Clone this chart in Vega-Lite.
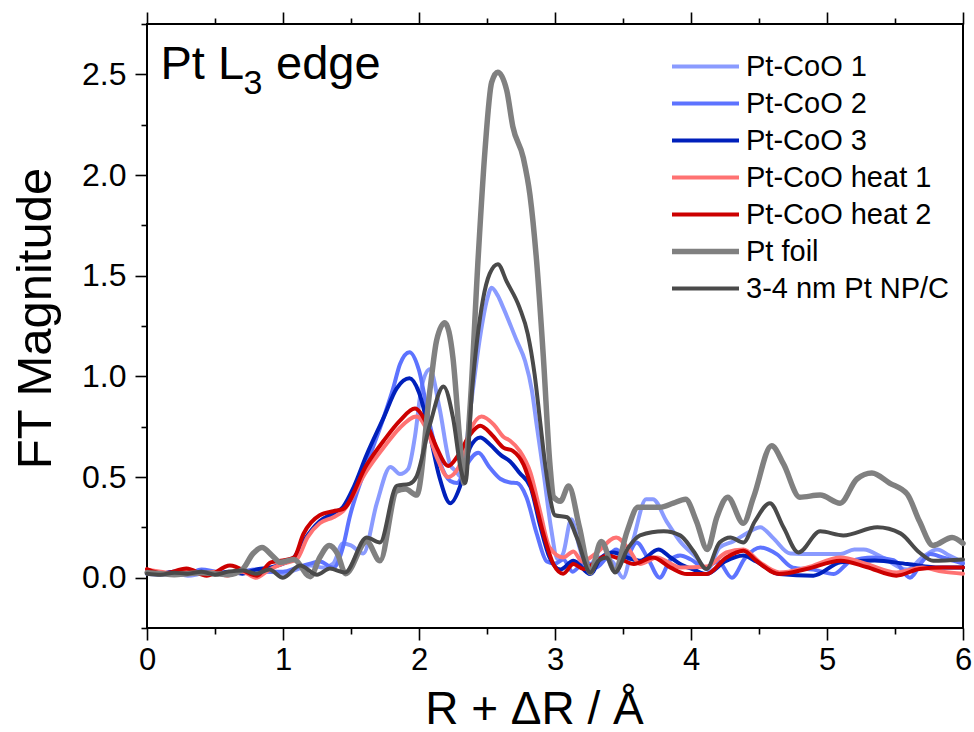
{
  "$schema": "https://vega.github.io/schema/vega-lite/v6.json",
  "width": 816,
  "height": 604,
  "autosize": {"type": "none"},
  "padding": {"left": 147, "top": 24, "right": 11, "bottom": 104},
  "background": "white",
  "config": {
    "view": {"stroke": "black", "strokeWidth": 2},
    "font": "Liberation Sans",
    "axis": {"grid": false, "domain": false, "tickColor": "black", "tickWidth": 1.6, "labelColor": "black", "titleColor": "black", "labelFont": "Liberation Sans", "titleFont": "Liberation Sans", "titleFontWeight": "normal"},
    "legend": {"labelFont": "Liberation Sans", "labelColor": "black"}
  },
  "datasets": {
    "curves": [
      {"series": "Pt-CoO 1", "r": 0.0, "m": 0.02}, {"series": "Pt-CoO 1", "r": 0.1, "m": 0.015}, {"series": "Pt-CoO 1", "r": 0.2, "m": 0.02}, {"series": "Pt-CoO 1", "r": 0.3, "m": 0.01}, {"series": "Pt-CoO 1", "r": 0.4, "m": 0.02}, {"series": "Pt-CoO 1", "r": 0.5, "m": 0.03}, {"series": "Pt-CoO 1", "r": 0.6, "m": 0.02}, {"series": "Pt-CoO 1", "r": 0.7, "m": 0.03}, {"series": "Pt-CoO 1", "r": 0.8, "m": 0.02}, {"series": "Pt-CoO 1", "r": 0.9, "m": 0.03}, {"series": "Pt-CoO 1", "r": 1.0, "m": 0.02}, {"series": "Pt-CoO 1", "r": 1.1, "m": 0.04}, {"series": "Pt-CoO 1", "r": 1.2, "m": 0.06}, {"series": "Pt-CoO 1", "r": 1.3, "m": 0.05}, {"series": "Pt-CoO 1", "r": 1.37, "m": 0.07}, {"series": "Pt-CoO 1", "r": 1.44, "m": 0.17}, {"series": "Pt-CoO 1", "r": 1.5, "m": 0.16}, {"series": "Pt-CoO 1", "r": 1.59, "m": 0.12}, {"series": "Pt-CoO 1", "r": 1.69, "m": 0.37}, {"series": "Pt-CoO 1", "r": 1.79, "m": 0.55}, {"series": "Pt-CoO 1", "r": 1.86, "m": 0.515}, {"series": "Pt-CoO 1", "r": 1.92, "m": 0.54}, {"series": "Pt-CoO 1", "r": 1.97, "m": 0.7}, {"series": "Pt-CoO 1", "r": 2.02, "m": 0.95}, {"series": "Pt-CoO 1", "r": 2.08, "m": 1.035}, {"series": "Pt-CoO 1", "r": 2.15, "m": 0.845}, {"series": "Pt-CoO 1", "r": 2.23, "m": 0.56}, {"series": "Pt-CoO 1", "r": 2.27, "m": 0.53}, {"series": "Pt-CoO 1", "r": 2.31, "m": 0.5}, {"series": "Pt-CoO 1", "r": 2.38, "m": 0.85}, {"series": "Pt-CoO 1", "r": 2.45, "m": 1.2}, {"series": "Pt-CoO 1", "r": 2.5, "m": 1.38}, {"series": "Pt-CoO 1", "r": 2.534, "m": 1.44}, {"series": "Pt-CoO 1", "r": 2.58, "m": 1.4}, {"series": "Pt-CoO 1", "r": 2.62, "m": 1.34}, {"series": "Pt-CoO 1", "r": 2.72, "m": 1.175}, {"series": "Pt-CoO 1", "r": 2.78, "m": 1.076}, {"series": "Pt-CoO 1", "r": 2.83, "m": 0.93}, {"series": "Pt-CoO 1", "r": 2.865, "m": 0.76}, {"series": "Pt-CoO 1", "r": 2.92, "m": 0.5}, {"series": "Pt-CoO 1", "r": 2.97, "m": 0.25}, {"series": "Pt-CoO 1", "r": 3.02, "m": 0.09}, {"series": "Pt-CoO 1", "r": 3.06, "m": 0.12}, {"series": "Pt-CoO 1", "r": 3.12, "m": 0.29}, {"series": "Pt-CoO 1", "r": 3.18, "m": 0.15}, {"series": "Pt-CoO 1", "r": 3.23, "m": 0.05}, {"series": "Pt-CoO 1", "r": 3.32, "m": 0.1}, {"series": "Pt-CoO 1", "r": 3.42, "m": 0.08}, {"series": "Pt-CoO 1", "r": 3.5, "m": 0.0}, {"series": "Pt-CoO 1", "r": 3.58, "m": 0.2}, {"series": "Pt-CoO 1", "r": 3.67, "m": 0.39}, {"series": "Pt-CoO 1", "r": 3.72, "m": 0.39}, {"series": "Pt-CoO 1", "r": 3.82, "m": 0.28}, {"series": "Pt-CoO 1", "r": 3.92, "m": 0.18}, {"series": "Pt-CoO 1", "r": 4.04, "m": 0.1}, {"series": "Pt-CoO 1", "r": 4.12, "m": 0.04}, {"series": "Pt-CoO 1", "r": 4.21, "m": 0.15}, {"series": "Pt-CoO 1", "r": 4.31, "m": 0.18}, {"series": "Pt-CoO 1", "r": 4.41, "m": 0.22}, {"series": "Pt-CoO 1", "r": 4.51, "m": 0.25}, {"series": "Pt-CoO 1", "r": 4.6, "m": 0.2}, {"series": "Pt-CoO 1", "r": 4.73, "m": 0.12}, {"series": "Pt-CoO 1", "r": 4.9, "m": 0.117}, {"series": "Pt-CoO 1", "r": 5.1, "m": 0.117}, {"series": "Pt-CoO 1", "r": 5.2, "m": 0.14}, {"series": "Pt-CoO 1", "r": 5.27, "m": 0.14}, {"series": "Pt-CoO 1", "r": 5.41, "m": 0.1}, {"series": "Pt-CoO 1", "r": 5.59, "m": 0.04}, {"series": "Pt-CoO 1", "r": 5.7, "m": 0.1}, {"series": "Pt-CoO 1", "r": 5.81, "m": 0.14}, {"series": "Pt-CoO 1", "r": 5.9, "m": 0.11}, {"series": "Pt-CoO 1", "r": 6.0, "m": 0.076},

      {"series": "Pt-CoO 2", "r": 0.0, "m": 0.03}, {"series": "Pt-CoO 2", "r": 0.1, "m": 0.02}, {"series": "Pt-CoO 2", "r": 0.2, "m": 0.03}, {"series": "Pt-CoO 2", "r": 0.3, "m": 0.02}, {"series": "Pt-CoO 2", "r": 0.4, "m": 0.04}, {"series": "Pt-CoO 2", "r": 0.5, "m": 0.03}, {"series": "Pt-CoO 2", "r": 0.6, "m": 0.02}, {"series": "Pt-CoO 2", "r": 0.7, "m": 0.03}, {"series": "Pt-CoO 2", "r": 0.8, "m": 0.04}, {"series": "Pt-CoO 2", "r": 0.9, "m": 0.03}, {"series": "Pt-CoO 2", "r": 1.0, "m": 0.03}, {"series": "Pt-CoO 2", "r": 1.1, "m": 0.05}, {"series": "Pt-CoO 2", "r": 1.2, "m": 0.07}, {"series": "Pt-CoO 2", "r": 1.27, "m": 0.08}, {"series": "Pt-CoO 2", "r": 1.37, "m": 0.05}, {"series": "Pt-CoO 2", "r": 1.44, "m": 0.15}, {"series": "Pt-CoO 2", "r": 1.49, "m": 0.3}, {"series": "Pt-CoO 2", "r": 1.615, "m": 0.56}, {"series": "Pt-CoO 2", "r": 1.74, "m": 0.795}, {"series": "Pt-CoO 2", "r": 1.81, "m": 0.94}, {"series": "Pt-CoO 2", "r": 1.86, "m": 1.06}, {"series": "Pt-CoO 2", "r": 1.93, "m": 1.12}, {"series": "Pt-CoO 2", "r": 2.0, "m": 1.03}, {"series": "Pt-CoO 2", "r": 2.08, "m": 0.76}, {"series": "Pt-CoO 2", "r": 2.15, "m": 0.58}, {"series": "Pt-CoO 2", "r": 2.23, "m": 0.48}, {"series": "Pt-CoO 2", "r": 2.28, "m": 0.47}, {"series": "Pt-CoO 2", "r": 2.35, "m": 0.56}, {"series": "Pt-CoO 2", "r": 2.436, "m": 0.62}, {"series": "Pt-CoO 2", "r": 2.52, "m": 0.547}, {"series": "Pt-CoO 2", "r": 2.6, "m": 0.49}, {"series": "Pt-CoO 2", "r": 2.67, "m": 0.473}, {"series": "Pt-CoO 2", "r": 2.72, "m": 0.47}, {"series": "Pt-CoO 2", "r": 2.79, "m": 0.4}, {"series": "Pt-CoO 2", "r": 2.865, "m": 0.22}, {"series": "Pt-CoO 2", "r": 2.94, "m": 0.08}, {"series": "Pt-CoO 2", "r": 3.0, "m": 0.07}, {"series": "Pt-CoO 2", "r": 3.06, "m": 0.09}, {"series": "Pt-CoO 2", "r": 3.13, "m": 0.03}, {"series": "Pt-CoO 2", "r": 3.22, "m": 0.08}, {"series": "Pt-CoO 2", "r": 3.3, "m": 0.05}, {"series": "Pt-CoO 2", "r": 3.38, "m": 0.1}, {"series": "Pt-CoO 2", "r": 3.45, "m": 0.14}, {"series": "Pt-CoO 2", "r": 3.52, "m": 0.1}, {"series": "Pt-CoO 2", "r": 3.6, "m": 0.175}, {"series": "Pt-CoO 2", "r": 3.68, "m": 0.1}, {"series": "Pt-CoO 2", "r": 3.77, "m": 0.0}, {"series": "Pt-CoO 2", "r": 3.85, "m": 0.09}, {"series": "Pt-CoO 2", "r": 3.92, "m": 0.11}, {"series": "Pt-CoO 2", "r": 4.0, "m": 0.09}, {"series": "Pt-CoO 2", "r": 4.1, "m": 0.05}, {"series": "Pt-CoO 2", "r": 4.2, "m": 0.08}, {"series": "Pt-CoO 2", "r": 4.3, "m": 0.0}, {"series": "Pt-CoO 2", "r": 4.4, "m": 0.1}, {"series": "Pt-CoO 2", "r": 4.51, "m": 0.15}, {"series": "Pt-CoO 2", "r": 4.63, "m": 0.117}, {"series": "Pt-CoO 2", "r": 4.75, "m": 0.05}, {"series": "Pt-CoO 2", "r": 4.9, "m": 0.04}, {"series": "Pt-CoO 2", "r": 5.05, "m": 0.018}, {"series": "Pt-CoO 2", "r": 5.17, "m": 0.08}, {"series": "Pt-CoO 2", "r": 5.34, "m": 0.1}, {"series": "Pt-CoO 2", "r": 5.49, "m": 0.087}, {"series": "Pt-CoO 2", "r": 5.61, "m": 0.0}, {"series": "Pt-CoO 2", "r": 5.7, "m": 0.08}, {"series": "Pt-CoO 2", "r": 5.76, "m": 0.117}, {"series": "Pt-CoO 2", "r": 5.85, "m": 0.1}, {"series": "Pt-CoO 2", "r": 6.0, "m": 0.07},

      {"series": "Pt-CoO 3", "r": 0.0, "m": 0.02}, {"series": "Pt-CoO 3", "r": 0.1, "m": 0.02}, {"series": "Pt-CoO 3", "r": 0.2, "m": 0.03}, {"series": "Pt-CoO 3", "r": 0.3, "m": 0.02}, {"series": "Pt-CoO 3", "r": 0.4, "m": 0.03}, {"series": "Pt-CoO 3", "r": 0.5, "m": 0.02}, {"series": "Pt-CoO 3", "r": 0.6, "m": 0.03}, {"series": "Pt-CoO 3", "r": 0.7, "m": 0.02}, {"series": "Pt-CoO 3", "r": 0.8, "m": 0.04}, {"series": "Pt-CoO 3", "r": 0.9, "m": 0.05}, {"series": "Pt-CoO 3", "r": 1.0, "m": 0.07}, {"series": "Pt-CoO 3", "r": 1.08, "m": 0.1}, {"series": "Pt-CoO 3", "r": 1.15, "m": 0.18}, {"series": "Pt-CoO 3", "r": 1.27, "m": 0.28}, {"series": "Pt-CoO 3", "r": 1.37, "m": 0.32}, {"series": "Pt-CoO 3", "r": 1.44, "m": 0.35}, {"series": "Pt-CoO 3", "r": 1.52, "m": 0.45}, {"series": "Pt-CoO 3", "r": 1.615, "m": 0.61}, {"series": "Pt-CoO 3", "r": 1.74, "m": 0.795}, {"series": "Pt-CoO 3", "r": 1.836, "m": 0.94}, {"series": "Pt-CoO 3", "r": 1.93, "m": 0.99}, {"series": "Pt-CoO 3", "r": 2.0, "m": 0.92}, {"series": "Pt-CoO 3", "r": 2.08, "m": 0.71}, {"series": "Pt-CoO 3", "r": 2.15, "m": 0.5}, {"series": "Pt-CoO 3", "r": 2.23, "m": 0.37}, {"series": "Pt-CoO 3", "r": 2.3, "m": 0.45}, {"series": "Pt-CoO 3", "r": 2.375, "m": 0.646}, {"series": "Pt-CoO 3", "r": 2.45, "m": 0.696}, {"series": "Pt-CoO 3", "r": 2.52, "m": 0.663}, {"series": "Pt-CoO 3", "r": 2.6, "m": 0.61}, {"series": "Pt-CoO 3", "r": 2.67, "m": 0.577}, {"series": "Pt-CoO 3", "r": 2.74, "m": 0.52}, {"series": "Pt-CoO 3", "r": 2.82, "m": 0.45}, {"series": "Pt-CoO 3", "r": 2.89, "m": 0.26}, {"series": "Pt-CoO 3", "r": 2.96, "m": 0.1}, {"series": "Pt-CoO 3", "r": 3.04, "m": 0.04}, {"series": "Pt-CoO 3", "r": 3.135, "m": 0.084}, {"series": "Pt-CoO 3", "r": 3.26, "m": 0.018}, {"series": "Pt-CoO 3", "r": 3.34, "m": 0.1}, {"series": "Pt-CoO 3", "r": 3.43, "m": 0.125}, {"series": "Pt-CoO 3", "r": 3.53, "m": 0.1}, {"series": "Pt-CoO 3", "r": 3.625, "m": 0.084}, {"series": "Pt-CoO 3", "r": 3.76, "m": 0.14}, {"series": "Pt-CoO 3", "r": 3.85, "m": 0.1}, {"series": "Pt-CoO 3", "r": 3.92, "m": 0.068}, {"series": "Pt-CoO 3", "r": 4.02, "m": 0.04}, {"series": "Pt-CoO 3", "r": 4.115, "m": 0.018}, {"series": "Pt-CoO 3", "r": 4.25, "m": 0.08}, {"series": "Pt-CoO 3", "r": 4.385, "m": 0.11}, {"series": "Pt-CoO 3", "r": 4.48, "m": 0.08}, {"series": "Pt-CoO 3", "r": 4.65, "m": 0.018}, {"series": "Pt-CoO 3", "r": 4.9, "m": 0.01}, {"series": "Pt-CoO 3", "r": 5.1, "m": 0.076}, {"series": "Pt-CoO 3", "r": 5.35, "m": 0.085}, {"series": "Pt-CoO 3", "r": 5.59, "m": 0.068}, {"series": "Pt-CoO 3", "r": 5.83, "m": 0.05}, {"series": "Pt-CoO 3", "r": 6.0, "m": 0.05},

      {"series": "Pt-CoO heat 1", "r": 0.0, "m": 0.04}, {"series": "Pt-CoO heat 1", "r": 0.1, "m": 0.03}, {"series": "Pt-CoO heat 1", "r": 0.2, "m": 0.02}, {"series": "Pt-CoO heat 1", "r": 0.3, "m": 0.04}, {"series": "Pt-CoO heat 1", "r": 0.4, "m": 0.02}, {"series": "Pt-CoO heat 1", "r": 0.5, "m": 0.03}, {"series": "Pt-CoO heat 1", "r": 0.59, "m": 0.01}, {"series": "Pt-CoO heat 1", "r": 0.7, "m": 0.03}, {"series": "Pt-CoO heat 1", "r": 0.8, "m": 0.0}, {"series": "Pt-CoO heat 1", "r": 0.9, "m": 0.04}, {"series": "Pt-CoO heat 1", "r": 1.0, "m": 0.07}, {"series": "Pt-CoO heat 1", "r": 1.1, "m": 0.09}, {"series": "Pt-CoO heat 1", "r": 1.18, "m": 0.2}, {"series": "Pt-CoO heat 1", "r": 1.27, "m": 0.27}, {"series": "Pt-CoO heat 1", "r": 1.37, "m": 0.3}, {"series": "Pt-CoO heat 1", "r": 1.44, "m": 0.33}, {"series": "Pt-CoO heat 1", "r": 1.615, "m": 0.53}, {"series": "Pt-CoO heat 1", "r": 1.74, "m": 0.646}, {"series": "Pt-CoO heat 1", "r": 1.86, "m": 0.745}, {"series": "Pt-CoO heat 1", "r": 1.983, "m": 0.8}, {"series": "Pt-CoO heat 1", "r": 2.06, "m": 0.73}, {"series": "Pt-CoO heat 1", "r": 2.13, "m": 0.6}, {"series": "Pt-CoO heat 1", "r": 2.215, "m": 0.5}, {"series": "Pt-CoO heat 1", "r": 2.29, "m": 0.547}, {"series": "Pt-CoO heat 1", "r": 2.375, "m": 0.73}, {"series": "Pt-CoO heat 1", "r": 2.46, "m": 0.8}, {"series": "Pt-CoO heat 1", "r": 2.55, "m": 0.76}, {"series": "Pt-CoO heat 1", "r": 2.62, "m": 0.7}, {"series": "Pt-CoO heat 1", "r": 2.67, "m": 0.68}, {"series": "Pt-CoO heat 1", "r": 2.74, "m": 0.63}, {"series": "Pt-CoO heat 1", "r": 2.82, "m": 0.52}, {"series": "Pt-CoO heat 1", "r": 2.89, "m": 0.33}, {"series": "Pt-CoO heat 1", "r": 2.96, "m": 0.15}, {"series": "Pt-CoO heat 1", "r": 3.06, "m": 0.1}, {"series": "Pt-CoO heat 1", "r": 3.135, "m": 0.13}, {"series": "Pt-CoO heat 1", "r": 3.2, "m": 0.08}, {"series": "Pt-CoO heat 1", "r": 3.3, "m": 0.12}, {"series": "Pt-CoO heat 1", "r": 3.45, "m": 0.2}, {"series": "Pt-CoO heat 1", "r": 3.55, "m": 0.134}, {"series": "Pt-CoO heat 1", "r": 3.625, "m": 0.068}, {"series": "Pt-CoO heat 1", "r": 3.75, "m": 0.1}, {"series": "Pt-CoO heat 1", "r": 3.85, "m": 0.07}, {"series": "Pt-CoO heat 1", "r": 3.92, "m": 0.05}, {"series": "Pt-CoO heat 1", "r": 4.115, "m": 0.055}, {"series": "Pt-CoO heat 1", "r": 4.26, "m": 0.125}, {"series": "Pt-CoO heat 1", "r": 4.385, "m": 0.14}, {"series": "Pt-CoO heat 1", "r": 4.5, "m": 0.08}, {"series": "Pt-CoO heat 1", "r": 4.65, "m": 0.026}, {"series": "Pt-CoO heat 1", "r": 4.85, "m": 0.05}, {"series": "Pt-CoO heat 1", "r": 5.1, "m": 0.1}, {"series": "Pt-CoO heat 1", "r": 5.29, "m": 0.068}, {"series": "Pt-CoO heat 1", "r": 5.51, "m": 0.026}, {"series": "Pt-CoO heat 1", "r": 5.7, "m": 0.05}, {"series": "Pt-CoO heat 1", "r": 5.85, "m": 0.03}, {"series": "Pt-CoO heat 1", "r": 6.0, "m": 0.02},

      {"series": "Pt-CoO heat 2", "r": 0.0, "m": 0.043}, {"series": "Pt-CoO heat 2", "r": 0.12, "m": 0.02}, {"series": "Pt-CoO heat 2", "r": 0.29, "m": 0.045}, {"series": "Pt-CoO heat 2", "r": 0.44, "m": 0.01}, {"series": "Pt-CoO heat 2", "r": 0.61, "m": 0.06}, {"series": "Pt-CoO heat 2", "r": 0.81, "m": 0.01}, {"series": "Pt-CoO heat 2", "r": 0.91, "m": 0.076}, {"series": "Pt-CoO heat 2", "r": 1.0, "m": 0.085}, {"series": "Pt-CoO heat 2", "r": 1.08, "m": 0.1}, {"series": "Pt-CoO heat 2", "r": 1.15, "m": 0.217}, {"series": "Pt-CoO heat 2", "r": 1.27, "m": 0.31}, {"series": "Pt-CoO heat 2", "r": 1.37, "m": 0.33}, {"series": "Pt-CoO heat 2", "r": 1.44, "m": 0.34}, {"series": "Pt-CoO heat 2", "r": 1.615, "m": 0.56}, {"series": "Pt-CoO heat 2", "r": 1.74, "m": 0.68}, {"series": "Pt-CoO heat 2", "r": 1.86, "m": 0.78}, {"series": "Pt-CoO heat 2", "r": 1.97, "m": 0.84}, {"series": "Pt-CoO heat 2", "r": 2.06, "m": 0.76}, {"series": "Pt-CoO heat 2", "r": 2.13, "m": 0.646}, {"series": "Pt-CoO heat 2", "r": 2.215, "m": 0.555}, {"series": "Pt-CoO heat 2", "r": 2.29, "m": 0.61}, {"series": "Pt-CoO heat 2", "r": 2.375, "m": 0.71}, {"series": "Pt-CoO heat 2", "r": 2.45, "m": 0.754}, {"series": "Pt-CoO heat 2", "r": 2.535, "m": 0.71}, {"series": "Pt-CoO heat 2", "r": 2.62, "m": 0.646}, {"series": "Pt-CoO heat 2", "r": 2.69, "m": 0.63}, {"series": "Pt-CoO heat 2", "r": 2.77, "m": 0.56}, {"series": "Pt-CoO heat 2", "r": 2.84, "m": 0.417}, {"series": "Pt-CoO heat 2", "r": 2.914, "m": 0.22}, {"series": "Pt-CoO heat 2", "r": 2.99, "m": 0.065}, {"series": "Pt-CoO heat 2", "r": 3.06, "m": 0.02}, {"series": "Pt-CoO heat 2", "r": 3.135, "m": 0.068}, {"series": "Pt-CoO heat 2", "r": 3.21, "m": 0.043}, {"series": "Pt-CoO heat 2", "r": 3.31, "m": 0.084}, {"series": "Pt-CoO heat 2", "r": 3.38, "m": 0.11}, {"series": "Pt-CoO heat 2", "r": 3.48, "m": 0.093}, {"series": "Pt-CoO heat 2", "r": 3.58, "m": 0.068}, {"series": "Pt-CoO heat 2", "r": 3.72, "m": 0.1}, {"series": "Pt-CoO heat 2", "r": 3.85, "m": 0.05}, {"series": "Pt-CoO heat 2", "r": 3.97, "m": 0.018}, {"series": "Pt-CoO heat 2", "r": 4.115, "m": 0.018}, {"series": "Pt-CoO heat 2", "r": 4.26, "m": 0.1}, {"series": "Pt-CoO heat 2", "r": 4.385, "m": 0.134}, {"series": "Pt-CoO heat 2", "r": 4.48, "m": 0.084}, {"series": "Pt-CoO heat 2", "r": 4.65, "m": 0.018}, {"series": "Pt-CoO heat 2", "r": 4.85, "m": 0.043}, {"series": "Pt-CoO heat 2", "r": 5.1, "m": 0.084}, {"series": "Pt-CoO heat 2", "r": 5.29, "m": 0.053}, {"series": "Pt-CoO heat 2", "r": 5.51, "m": 0.01}, {"series": "Pt-CoO heat 2", "r": 5.68, "m": 0.043}, {"series": "Pt-CoO heat 2", "r": 5.85, "m": 0.05}, {"series": "Pt-CoO heat 2", "r": 6.0, "m": 0.05},

      {"series": "Pt foil", "r": 0.0, "m": 0.025}, {"series": "Pt foil", "r": 0.1, "m": 0.02}, {"series": "Pt foil", "r": 0.2, "m": 0.015}, {"series": "Pt foil", "r": 0.3, "m": 0.02}, {"series": "Pt foil", "r": 0.4, "m": 0.025}, {"series": "Pt foil", "r": 0.5, "m": 0.02}, {"series": "Pt foil", "r": 0.6, "m": 0.015}, {"series": "Pt foil", "r": 0.7, "m": 0.04}, {"series": "Pt foil", "r": 0.78, "m": 0.12}, {"series": "Pt foil", "r": 0.846, "m": 0.15}, {"series": "Pt foil", "r": 0.92, "m": 0.11}, {"series": "Pt foil", "r": 0.98, "m": 0.076}, {"series": "Pt foil", "r": 1.08, "m": 0.09}, {"series": "Pt foil", "r": 1.2, "m": 0.005}, {"series": "Pt foil", "r": 1.27, "m": 0.1}, {"series": "Pt foil", "r": 1.34, "m": 0.16}, {"series": "Pt foil", "r": 1.4, "m": 0.12}, {"series": "Pt foil", "r": 1.46, "m": 0.02}, {"series": "Pt foil", "r": 1.615, "m": 0.18}, {"series": "Pt foil", "r": 1.713, "m": 0.084}, {"series": "Pt foil", "r": 1.836, "m": 0.43}, {"series": "Pt foil", "r": 1.9, "m": 0.44}, {"series": "Pt foil", "r": 1.983, "m": 0.41}, {"series": "Pt foil", "r": 2.08, "m": 0.93}, {"series": "Pt foil", "r": 2.13, "m": 1.18}, {"series": "Pt foil", "r": 2.19, "m": 1.266}, {"series": "Pt foil", "r": 2.25, "m": 1.09}, {"series": "Pt foil", "r": 2.3, "m": 0.68}, {"series": "Pt foil", "r": 2.33, "m": 0.47}, {"series": "Pt foil", "r": 2.375, "m": 0.84}, {"series": "Pt foil", "r": 2.436, "m": 1.6}, {"series": "Pt foil", "r": 2.485, "m": 2.12}, {"series": "Pt foil", "r": 2.534, "m": 2.46}, {"series": "Pt foil", "r": 2.579, "m": 2.51}, {"series": "Pt foil", "r": 2.645, "m": 2.42}, {"series": "Pt foil", "r": 2.69, "m": 2.24}, {"series": "Pt foil", "r": 2.767, "m": 2.085}, {"series": "Pt foil", "r": 2.816, "m": 1.9}, {"series": "Pt foil", "r": 2.865, "m": 1.57}, {"series": "Pt foil", "r": 2.914, "m": 1.1}, {"series": "Pt foil", "r": 2.963, "m": 0.56}, {"series": "Pt foil", "r": 2.99, "m": 0.4}, {"series": "Pt foil", "r": 3.04, "m": 0.38}, {"series": "Pt foil", "r": 3.1, "m": 0.455}, {"series": "Pt foil", "r": 3.18, "m": 0.25}, {"series": "Pt foil", "r": 3.26, "m": 0.025}, {"series": "Pt foil", "r": 3.34, "m": 0.18}, {"series": "Pt foil", "r": 3.44, "m": 0.035}, {"series": "Pt foil", "r": 3.53, "m": 0.23}, {"series": "Pt foil", "r": 3.61, "m": 0.35}, {"series": "Pt foil", "r": 3.77, "m": 0.35}, {"series": "Pt foil", "r": 3.87, "m": 0.37}, {"series": "Pt foil", "r": 3.96, "m": 0.39}, {"series": "Pt foil", "r": 4.04, "m": 0.28}, {"series": "Pt foil", "r": 4.12, "m": 0.14}, {"series": "Pt foil", "r": 4.19, "m": 0.3}, {"series": "Pt foil", "r": 4.27, "m": 0.4}, {"series": "Pt foil", "r": 4.385, "m": 0.27}, {"series": "Pt foil", "r": 4.46, "m": 0.4}, {"series": "Pt foil", "r": 4.593, "m": 0.655}, {"series": "Pt foil", "r": 4.68, "m": 0.565}, {"series": "Pt foil", "r": 4.8, "m": 0.4}, {"series": "Pt foil", "r": 4.95, "m": 0.41}, {"series": "Pt foil", "r": 5.096, "m": 0.37}, {"series": "Pt foil", "r": 5.22, "m": 0.49}, {"series": "Pt foil", "r": 5.33, "m": 0.52}, {"series": "Pt foil", "r": 5.46, "m": 0.47}, {"series": "Pt foil", "r": 5.59, "m": 0.415}, {"series": "Pt foil", "r": 5.68, "m": 0.28}, {"series": "Pt foil", "r": 5.78, "m": 0.16}, {"series": "Pt foil", "r": 5.92, "m": 0.2}, {"series": "Pt foil", "r": 6.0, "m": 0.17},

      {"series": "3-4 nm Pt NP/C", "r": 0.0, "m": 0.02}, {"series": "3-4 nm Pt NP/C", "r": 0.1, "m": 0.015}, {"series": "3-4 nm Pt NP/C", "r": 0.2, "m": 0.025}, {"series": "3-4 nm Pt NP/C", "r": 0.3, "m": 0.02}, {"series": "3-4 nm Pt NP/C", "r": 0.4, "m": 0.03}, {"series": "3-4 nm Pt NP/C", "r": 0.5, "m": 0.015}, {"series": "3-4 nm Pt NP/C", "r": 0.6, "m": 0.03}, {"series": "3-4 nm Pt NP/C", "r": 0.71, "m": 0.035}, {"series": "3-4 nm Pt NP/C", "r": 0.8, "m": 0.02}, {"series": "3-4 nm Pt NP/C", "r": 0.9, "m": 0.04}, {"series": "3-4 nm Pt NP/C", "r": 1.0, "m": 0.0}, {"series": "3-4 nm Pt NP/C", "r": 1.125, "m": 0.06}, {"series": "3-4 nm Pt NP/C", "r": 1.25, "m": 0.015}, {"series": "3-4 nm Pt NP/C", "r": 1.345, "m": 0.045}, {"series": "3-4 nm Pt NP/C", "r": 1.456, "m": 0.026}, {"series": "3-4 nm Pt NP/C", "r": 1.615, "m": 0.2}, {"series": "3-4 nm Pt NP/C", "r": 1.713, "m": 0.175}, {"series": "3-4 nm Pt NP/C", "r": 1.836, "m": 0.456}, {"series": "3-4 nm Pt NP/C", "r": 1.93, "m": 0.466}, {"series": "3-4 nm Pt NP/C", "r": 1.98, "m": 0.5}, {"series": "3-4 nm Pt NP/C", "r": 2.08, "m": 0.76}, {"series": "3-4 nm Pt NP/C", "r": 2.18, "m": 0.95}, {"series": "3-4 nm Pt NP/C", "r": 2.25, "m": 0.795}, {"series": "3-4 nm Pt NP/C", "r": 2.31, "m": 0.53}, {"series": "3-4 nm Pt NP/C", "r": 2.34, "m": 0.47}, {"series": "3-4 nm Pt NP/C", "r": 2.39, "m": 0.93}, {"series": "3-4 nm Pt NP/C", "r": 2.47, "m": 1.38}, {"series": "3-4 nm Pt NP/C", "r": 2.52, "m": 1.51}, {"series": "3-4 nm Pt NP/C", "r": 2.58, "m": 1.557}, {"series": "3-4 nm Pt NP/C", "r": 2.645, "m": 1.47}, {"series": "3-4 nm Pt NP/C", "r": 2.74, "m": 1.34}, {"series": "3-4 nm Pt NP/C", "r": 2.8, "m": 1.21}, {"series": "3-4 nm Pt NP/C", "r": 2.85, "m": 1.01}, {"series": "3-4 nm Pt NP/C", "r": 2.89, "m": 0.78}, {"series": "3-4 nm Pt NP/C", "r": 2.93, "m": 0.55}, {"series": "3-4 nm Pt NP/C", "r": 2.963, "m": 0.4}, {"series": "3-4 nm Pt NP/C", "r": 3.0, "m": 0.31}, {"series": "3-4 nm Pt NP/C", "r": 3.09, "m": 0.3}, {"series": "3-4 nm Pt NP/C", "r": 3.16, "m": 0.2}, {"series": "3-4 nm Pt NP/C", "r": 3.26, "m": 0.026}, {"series": "3-4 nm Pt NP/C", "r": 3.32, "m": 0.084}, {"series": "3-4 nm Pt NP/C", "r": 3.38, "m": 0.1}, {"series": "3-4 nm Pt NP/C", "r": 3.44, "m": 0.026}, {"series": "3-4 nm Pt NP/C", "r": 3.54, "m": 0.15}, {"series": "3-4 nm Pt NP/C", "r": 3.625, "m": 0.21}, {"series": "3-4 nm Pt NP/C", "r": 3.8, "m": 0.23}, {"series": "3-4 nm Pt NP/C", "r": 3.92, "m": 0.21}, {"series": "3-4 nm Pt NP/C", "r": 4.02, "m": 0.13}, {"series": "3-4 nm Pt NP/C", "r": 4.115, "m": 0.043}, {"series": "3-4 nm Pt NP/C", "r": 4.21, "m": 0.175}, {"series": "3-4 nm Pt NP/C", "r": 4.29, "m": 0.2}, {"series": "3-4 nm Pt NP/C", "r": 4.385, "m": 0.175}, {"series": "3-4 nm Pt NP/C", "r": 4.47, "m": 0.28}, {"series": "3-4 nm Pt NP/C", "r": 4.58, "m": 0.37}, {"series": "3-4 nm Pt NP/C", "r": 4.68, "m": 0.25}, {"series": "3-4 nm Pt NP/C", "r": 4.79, "m": 0.125}, {"series": "3-4 nm Pt NP/C", "r": 4.95, "m": 0.23}, {"series": "3-4 nm Pt NP/C", "r": 5.12, "m": 0.21}, {"series": "3-4 nm Pt NP/C", "r": 5.37, "m": 0.25}, {"series": "3-4 nm Pt NP/C", "r": 5.54, "m": 0.22}, {"series": "3-4 nm Pt NP/C", "r": 5.68, "m": 0.125}, {"series": "3-4 nm Pt NP/C", "r": 5.78, "m": 0.084}, {"series": "3-4 nm Pt NP/C", "r": 6.0, "m": 0.09}
    ]
  },
  "resolve": {"axis": {"x": "independent"}},
  "layer": [
    {
      "data": {"name": "curves"},
      "mark": {"type": "line", "interpolate": "monotone", "strokeCap": "round", "strokeJoin": "round"},
      "encoding": {
        "x": {"field": "r", "type": "quantitative",
          "scale": {"domain": [0, 6], "nice": false, "zero": false},
          "axis": {"orient": "bottom", "values": [0, 0.5, 1, 1.5, 2, 2.5, 3, 3.5, 4, 4.5, 5, 5.5, 6],
            "labelExpr": "abs(datum.value - round(datum.value)) < 0.001 ? format(datum.value, 'd') : ''",
            "tickSize": {"condition": {"test": "abs(datum.value - round(datum.value)) < 0.001", "value": 12}, "value": 6},
            "labelFontSize": 31, "labelPadding": 5, "labelFlush": false,
            "title": "R + ΔR / Å", "titleFontSize": 46, "titleX": 387, "titleY": 95, "titleBaseline": "alphabetic", "titleAlign": "center", "titleAnchor": null}},
        "y": {"field": "m", "type": "quantitative",
          "scale": {"domain": [-0.25, 2.75], "nice": false, "zero": false},
          "axis": {"orient": "left", "values": [-0.25, 0, 0.25, 0.5, 0.75, 1, 1.25, 1.5, 1.75, 2, 2.25, 2.5, 2.75],
            "labelExpr": "abs(datum.value * 2 - round(datum.value * 2)) < 0.001 ? format(datum.value, '.1f') : ''",
            "tickSize": {"condition": {"test": "abs(datum.value * 2 - round(datum.value * 2)) < 0.001", "value": 12}, "value": 6},
            "labelFontSize": 32, "labelPadding": 9, "labelFlush": false,
            "title": "FT Magnitude", "titleFontSize": 49, "titleX": -97, "titleY": 294, "titleBaseline": "alphabetic", "titleAlign": "center", "titleAngle": -90}},
        "color": {"field": "series", "type": "nominal",
          "scale": {"domain": ["Pt-CoO 1", "Pt-CoO 2", "Pt-CoO 3", "Pt-CoO heat 1", "Pt-CoO heat 2", "Pt foil", "3-4 nm Pt NP/C"],
            "range": ["#8a9bff", "#5d73ff", "#0020bb", "#ff7272", "#cc0000", "#808080", "#4a4a4a"]},
          "legend": {"orient": "none", "legendX": 522, "legendY": 28, "title": null, "labelFontSize": 29, "labelLimit": 400, "symbolType": "stroke", "symbolSize": 4489, "symbolStrokeWidth": 4, "clipHeight": 29, "rowPadding": 7, "labelOffset": 4, "padding": 0}},
        "strokeWidth": {"field": "series", "type": "nominal",
          "scale": {"type": "ordinal", "domain": ["Pt-CoO 1", "Pt-CoO 2", "Pt-CoO 3", "Pt-CoO heat 1", "Pt-CoO heat 2", "Pt foil", "3-4 nm Pt NP/C"],
            "range": [4, 4, 4, 4, 4, 5.5, 4]},
          "legend": {"orient": "none", "legendX": 522, "legendY": 28, "title": null, "labelFontSize": 29, "labelLimit": 400, "symbolType": "stroke", "symbolSize": 4489, "clipHeight": 29, "rowPadding": 7, "labelOffset": 4, "padding": 0}}
      }
    },
    {
      "mark": {"type": "rule", "strokeDash": [4, 3], "strokeWidth": 1.2, "color": "black"},
      "encoding": {
        "x": {"datum": 2.59, "type": "quantitative",
          "scale": {"domain": [0, 6], "nice": false, "zero": false},
          "axis": {"orient": "top", "values": [0, 0.5, 1, 1.5, 2, 2.5, 3, 3.5, 4, 4.5, 5, 5.5, 6], "labels": false, "title": null,
            "tickSize": {"condition": {"test": "abs(datum.value - round(datum.value)) < 0.001", "value": 12}, "value": 6}}}
      }
    },
    {
      "data": {"values": [{}]},
      "mark": {"type": "text", "fontSize": 47, "font": "Liberation Sans", "align": "left", "baseline": "alphabetic", "color": "black"},
      "encoding": {
        "text": {"value": "Pt L"},
        "x": {"datum": 0.099, "type": "quantitative", "scale": {"domain": [0, 6], "nice": false, "zero": false}, "axis": null},
        "y": {"datum": 2.475, "type": "quantitative", "scale": {"domain": [-0.25, 2.75], "nice": false, "zero": false}}
      }
    },
    {
      "data": {"values": [{}]},
      "mark": {"type": "text", "fontSize": 34, "font": "Liberation Sans", "align": "left", "baseline": "alphabetic", "color": "black"},
      "encoding": {
        "text": {"value": "3"},
        "x": {"datum": 0.71, "type": "quantitative", "scale": {"domain": [0, 6], "nice": false, "zero": false}, "axis": null},
        "y": {"datum": 2.4, "type": "quantitative", "scale": {"domain": [-0.25, 2.75], "nice": false, "zero": false}}
      }
    },
    {
      "data": {"values": [{}]},
      "mark": {"type": "text", "fontSize": 47, "font": "Liberation Sans", "align": "left", "baseline": "alphabetic", "color": "black"},
      "encoding": {
        "text": {"value": "edge"},
        "x": {"datum": 0.949, "type": "quantitative", "scale": {"domain": [0, 6], "nice": false, "zero": false}, "axis": null},
        "y": {"datum": 2.475, "type": "quantitative", "scale": {"domain": [-0.25, 2.75], "nice": false, "zero": false}}
      }
    }
  ]
}
